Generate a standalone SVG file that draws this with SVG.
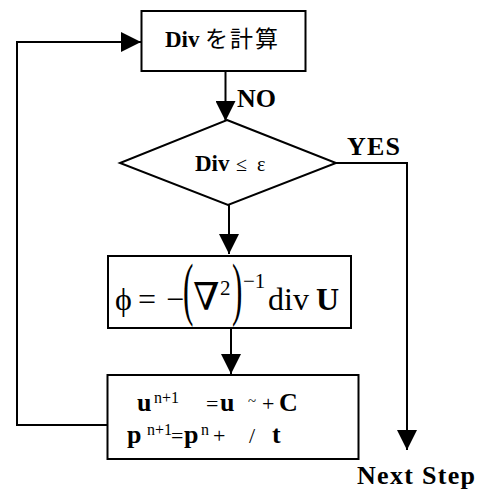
<svg xmlns="http://www.w3.org/2000/svg" width="479" height="490" viewBox="0 0 479 490">
<style>
.box{fill:#fff;stroke:#000;stroke-width:2}
.ln{fill:none;stroke:#000;stroke-width:2}
.t{font-family:"Liberation Serif","Times New Roman",serif;fill:#000}
.b{font-weight:bold}
.jp{font-family:"Noto Sans CJK JP","Noto Sans CJK SC",sans-serif;fill:#000}
</style>
<defs>
<marker id="ah" viewBox="0 0 20 20" refX="20" refY="10" markerWidth="20" markerHeight="20" orient="auto" markerUnits="userSpaceOnUse">
<path d="M0,0 L20,10 L0,20 z" fill="#000"/>
</marker>
</defs>
<g id="connectors">
<path class="ln" d="M225.5,71 V121" marker-end="url(#ah)"/>
<path class="ln" d="M336,163 H407 V450" marker-end="url(#ah)"/>
<path class="ln" d="M229,205 V254" marker-end="url(#ah)"/>
<path class="ln" d="M231,328 V374" marker-end="url(#ah)"/>
<path class="ln" d="M107.5,425 H17 V42 H141" marker-end="url(#ah)"/>
</g>
<g id="calc-div">
<rect class="box" x="141.5" y="11" width="164" height="60"/>
<text class="t b" x="165" y="46.5" font-size="23">Div</text>
<text class="jp" x="205" y="47" font-size="23" letter-spacing="2">を計算</text>
</g>
<g id="decision">
<polygon class="box" points="227,120 336,163 228,205 120,163"/>
<text class="t b" x="195" y="171" font-size="23">Div</text>
<text class="t" x="236" y="171" font-size="20">≤</text>
<text class="t" x="257" y="171" font-size="20">ε</text>
</g>
<g id="labels">
<text class="t b" x="237" y="106.5" font-size="26">NO</text>
<text class="t b" x="347" y="155" font-size="26" textLength="53">YES</text>
<text class="t b" x="357" y="484" font-size="26" textLength="118">Next Step</text>
</g>
<g id="solve-phi">
<rect class="box" x="108" y="256" width="243" height="72"/>
<text class="t" x="115" y="310" font-size="32">ϕ</text>
<text class="t" x="138" y="310" font-size="32">=</text>
<text class="t" x="166" y="310" font-size="32">−</text>
<text class="t" transform="translate(183,312) scale(1.3,2.9)" font-size="24">(</text>
<text x="193" y="310" font-size="38" font-family="'DejaVu Serif',serif">∇</text>
<text class="t" x="220" y="295" font-size="21">2</text>
<text class="t" transform="translate(232,312) scale(1.3,2.9)" font-size="24">)</text>
<text class="t" x="243" y="288" font-size="21">−1</text>
<text class="t" x="268" y="310" font-size="32">div</text>
<text class="t b" x="316" y="310" font-size="32">U</text>
</g>
<g id="update">
<rect class="box" x="107.5" y="375" width="251" height="84"/>
<text class="t b" x="137" y="411" font-size="26">u</text>
<text class="t" x="154" y="403" font-size="16">n+1</text>
<text class="t" x="206" y="411" font-size="22">=</text>
<text class="t b" x="220" y="411" font-size="26">u</text>
<text class="t" x="248" y="406" font-size="15">~</text>
<text class="t" x="262" y="411" font-size="22">+</text>
<text class="t b" x="279" y="411" font-size="26">C</text>
<text class="t b" x="127" y="443" font-size="26">p</text>
<text class="t" x="147" y="435" font-size="16">n+1</text>
<text class="t" x="171" y="443" font-size="22">=</text>
<text class="t b" x="184" y="443" font-size="26">p</text>
<text class="t" x="201" y="435" font-size="16">n</text>
<text class="t" x="213" y="443" font-size="22">+</text>
<text class="t" x="249" y="443" font-size="22">/</text>
<text class="t b" x="272" y="443" font-size="26">t</text>
</g>
</svg>
